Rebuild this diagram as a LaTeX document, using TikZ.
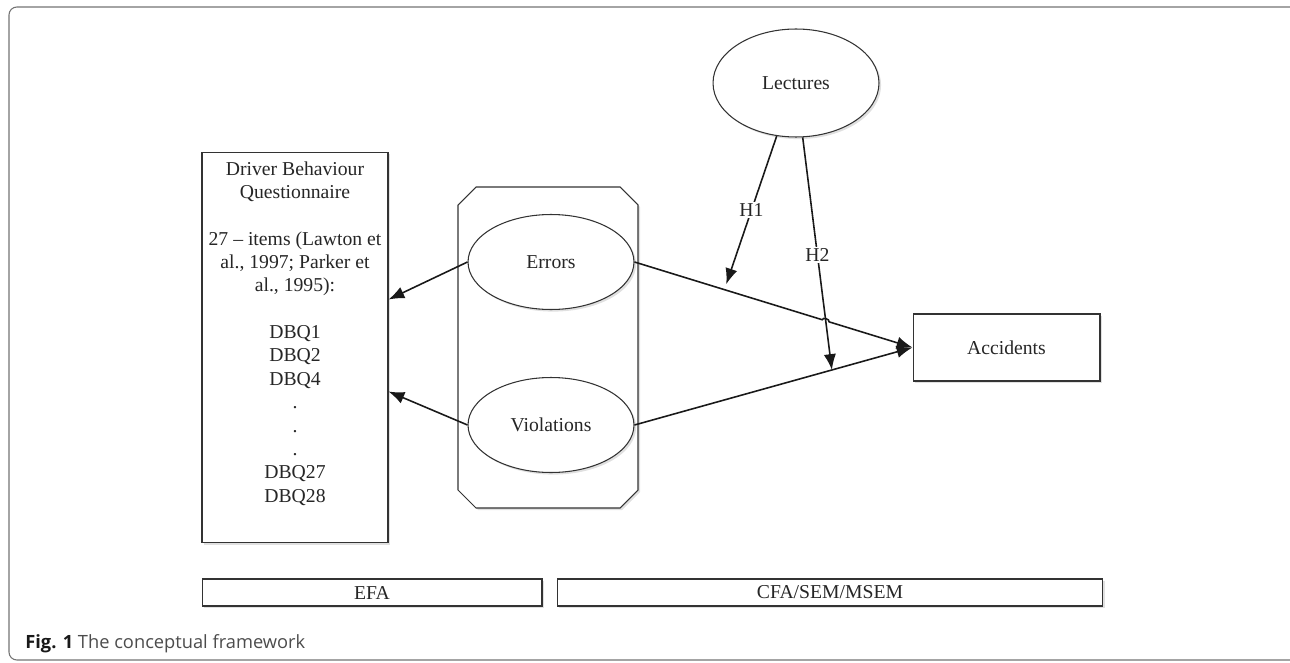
\documentclass[tikz,border=0pt]{standalone}
\usepackage{fontspec}
\setmainfont{Liberation Serif}
\newfontfamily\capfont{Open Sans}
\usetikzlibrary{calc,arrows.meta,shadows,shapes.geometric}
\newcommand\diagfont{\fontsize{11.2pt}{13.3pt}\selectfont}
\tikzset{
	softshadow/.style={drop shadow={shadow xshift=1.2pt, shadow yshift=-1.2pt, fill=black, opacity=0.12}},
	latent/.style={ellipse, draw=black!80, line width=0.6pt, fill=white, softshadow, minimum width=3.32cm, minimum height=1.9cm, inner sep=0pt, font=\diagfont, text=black!85},
	block/.style={rectangle, draw=black!80, line width=0.6pt, fill=white, softshadow, inner sep=0pt, font=\diagfont, text=black!85},
	conn/.style={line width=0.9pt, black!90, -{Latex[length=9pt,width=7pt]}},
	hyp/.style={fill=white, inner sep=1pt, font=\diagfont, text=black!85}
}

\begin{document}
\begin{tikzpicture}[x=0.02cm, y=-0.02cm]
	%%%%% START %%%%%
	
	\clip (0,0) rectangle (1290,662);
	\draw[black!55, line width=0.6pt, rounded corners=4.5pt] (9,7) rectangle (1298,660);
	
	% group of the two factors
	\draw[draw=black!80, line width=0.6pt, fill=white, softshadow] (476,187) -- (620,187) -- (638,205) -- (638,490) -- (620,508) -- (476,508) -- (458,490) -- (458,205) -- cycle;
	
	\node[latent] (err) at (551,262) {Errors};
	\node[latent] (vio) at (551,425) {Violations};
	\node[latent, minimum height=2.16cm] (lec) at (796,83) {Lectures};
	
	\node[block, minimum width=3.72cm, minimum height=7.82cm] (dbq) at (295,347.5) {};
	\node[anchor=north, inner sep=0pt, align=center, font=\diagfont, text=black!85] (dbqtxt) at ($(dbq.north)+(0,9.5)$) {Driver Behaviour\\Questionnaire\\[13.3pt]27 -- items (Lawton et\\al., 1997; Parker et\\al., 1995):\\[13.3pt]DBQ1\\DBQ2\\DBQ4\\.\\.\\.\\DBQ27\\DBQ28};
	
	\node[block, minimum width=3.74cm, minimum height=1.34cm] (acc) at (1006.5,347.5) {Accidents};
	
	\node[block, minimum width=6.8cm, minimum height=0.54cm] (efa) at (372,592.5) {EFA};
	\node[block, minimum width=10.92cm, minimum height=0.54cm] (cfa) at (830,592.5) {CFA/SEM/MSEM};
	
	% factors to questionnaire
	\coordinate (q1) at ($(dbq.north east)+(0,148)$);
	\coordinate (q2) at ($(dbq.north east)+(0,240)$);
	\draw[conn] (err.west) -- (q1);
	\draw[conn] (vio.west) -- (q2);
	
	% factors to accidents, with a jump over H2
	\coordinate (j1) at ($(err.east)!0.675!(acc.west)$);
	\coordinate (j2) at ($(err.east)!0.70!(acc.west)$);
	\draw[conn] (err.east) -- (j1) to[bend left=90] (j2) -- (acc.west);
	\draw[conn] (vio.east) -- (acc.west);
	
	% moderation by lectures
	\coordinate (h1) at ($(err.east)!0.33!(acc.west)+(0,-6)$);
	\coordinate (h2) at ($(vio.east)!0.71!(acc.west)$);
	\draw[conn] (lec.250) -- node[hyp, pos=0.5] (h1lab) {H1} (h1);
	\draw[conn] (lec.277) -- node[hyp, pos=0.506] (h2lab) {H2} (h2);
	
	\node[anchor=base west, inner sep=0pt, font=\capfont\fontsize{10.4pt}{12pt}\selectfont, text=black!70] (cap) at (25,648) {\textcolor{black!90}{\textbf{Fig. 1}} The conceptual framework};
	
	%%%%% END %%%%%
\end{tikzpicture}
\end{document}
